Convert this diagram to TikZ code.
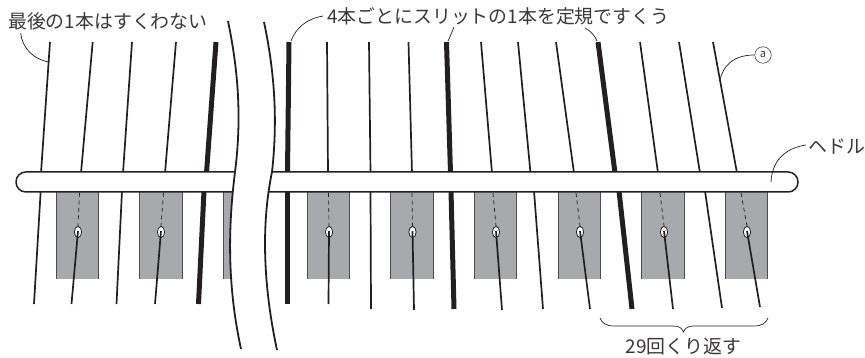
\documentclass[tikz,border=0pt]{standalone}
\usepackage{fontspec}
\setmainfont{Noto Sans CJK JP}
\definecolor{ink}{HTML}{231F20}
\definecolor{heddlegray}{HTML}{A7A9AC}
\definecolor{edgegray}{HTML}{4D4D4F}
\definecolor{labelink}{HTML}{3A3738}
\tikzset{
  x=1pt,y=-1pt,
  thinthread/.style={draw=ink,line width=1.7pt},
  fatthread/.style={draw=ink,line width=5pt},
  curveline/.style={draw=ink,line width=1.8pt},
  leader/.style={draw=ink,line width=0.7pt},
  dashline/.style={draw=ink,line width=0.7pt,dash pattern=on 4pt off 3.5pt},
  heddlebox/.style={fill=heddlegray,draw=none},
  heddleedge/.style={draw=edgegray,line width=1pt},
  caption/.style={inner sep=0pt,text=labelink,font=\fontsize{18.9}{18.9}\selectfont,anchor=west},
}
\begin{document}
\begin{tikzpicture}
\useasboundingbox (0,0) rectangle (865,358);
% heddle blocks
\foreach \a/\b in {56/98.5,139.5/182,223/260,307/349,390.5/433,474.5/516.5,558/600,641.5/684,725/767.5}{
  \fill[heddlebox] (\a,192) rectangle (\b,278.5);
  \draw[heddleedge] (\a,192) -- (\a,278.5);
  \draw[heddleedge] (\b,192) -- (\b,278.5);
}
% threads in front of the heddle blocks, above and below the bar
\foreach \xa/\xb/\xc/\xd/\yd in {50/41/40.7/34/304,132/123/122/116.5/304,369/370.5/370.5/371/309,518/530.5/534/543/309,679/700/705/722/308}{
  \draw[thinthread] (\xa,42) -- (\xb,173);
  \draw[thinthread] (\xc,191) -- (\xd,\yd);
}
\foreach \xa/\xb/\xc/\xd/\yd in {216/206.5/204/198.5/304,289/287.5/287.5/287.5/304,446.5/450.5/451/454/309,598/615/619/632/309}{
  \draw[fatthread] (\xa,42) -- (\xb,173);
  \draw[fatthread] (\xc,191) -- (\xd,\yd);
}
% threads through the holes
\foreach \xa/\xb/\xc/\xe/\xd/\yd in {92.7/81/79.5/78/71.5/304,176/165/163.5/161/155/304,327/328/328.5/329/328.5/304,408.5/412/412/412.5/414/310,481/492/493/496/502/310,556/574/576/580/590/309,640/658/660/664/673/309,713/737/741/747/760/307}{
  \draw[thinthread] (\xa,42) -- (\xb,173);
  \draw[dashline] (\xc,193) -- (\xe,226);
  \draw[ink,line width=0.8pt,fill=white] (\xe,232) ellipse (3.6 and 5.6);
  \draw[thinthread] (\xe,231) -- (\xd,\yd);
}
% bar
\draw[ink,fill=white,line width=1.5pt,rounded corners=9.9pt] (16,172) rectangle (798,192);
% break in the picture
\fill[white] (228,21) .. controls (236,60) and (243,110) .. (235,172) .. controls (229,220) and (226,280) .. (241,349)
  -- (277,350) .. controls (262,280) and (262,220) .. (272,172) .. controls (279,110) and (272,60) .. (264,22) -- cycle;
\draw[curveline] (228,21) .. controls (236,60) and (243,110) .. (235,172) .. controls (229,220) and (226,280) .. (241,349);
\draw[curveline] (264,22) .. controls (272,60) and (279,110) .. (272,172) .. controls (262,220) and (262,280) .. (277,350);
% labels
\node[caption] (last) at (8,21) {最後の1本はすくわない};
\node[caption] (every) at (327,16) {4本ごとにスリットの1本を定規ですくう};
\node[caption] (hed) at (808,147) {ヘドル};
\node[caption,anchor=center] (rep) at (683.5,347) {29回くり返す};
\node[draw=ink,circle,line width=0.5pt,minimum size=16.5pt,inner sep=0pt,text=labelink,font=\fontsize{11}{11}\selectfont] (circa) at (763,55) {a};
% leaders
\coordinate (t1) at (49.5,62);
\coordinate (f1) at (291,41);
\coordinate (f2) at (448,41);
\coordinate (f3) at (597,41);
\coordinate (f2s) at (454,27);
\coordinate (f3s) at (585,28);
\coordinate (ta) at (720,80);
\coordinate (tb) at (771,182);
\draw[leader] (20.7,33) .. controls (22,48) and (34,60) .. (t1);
\draw[leader] (every.west)++(-4,0) .. controls (306,19) and (296,28) .. (f1);
\draw[leader] (f2s) .. controls (452,32) and (450,37) .. (f2);
\draw[leader] (f3s) .. controls (591,31) and (595,36) .. (f3);
\draw[leader] (circa.west) .. controls (733,55) and (723,66) .. (ta);
\draw[leader] (hed.west)++(-2,-2) .. controls (786,148) and (772,160) .. (tb);
% brace
\coordinate (ba) at (600,318);
\coordinate (bb) at (768,318);
\draw[leader] (ba) .. controls (602,323) and (606,326) .. (614,326) -- (673,326) .. controls (679,326) and (682,328) .. (683.5,332) .. controls (685,328) and (688,326) .. (694,326) -- (754,326) .. controls (762,326) and (766,323) .. (bb);
\end{tikzpicture}
\end{document}
